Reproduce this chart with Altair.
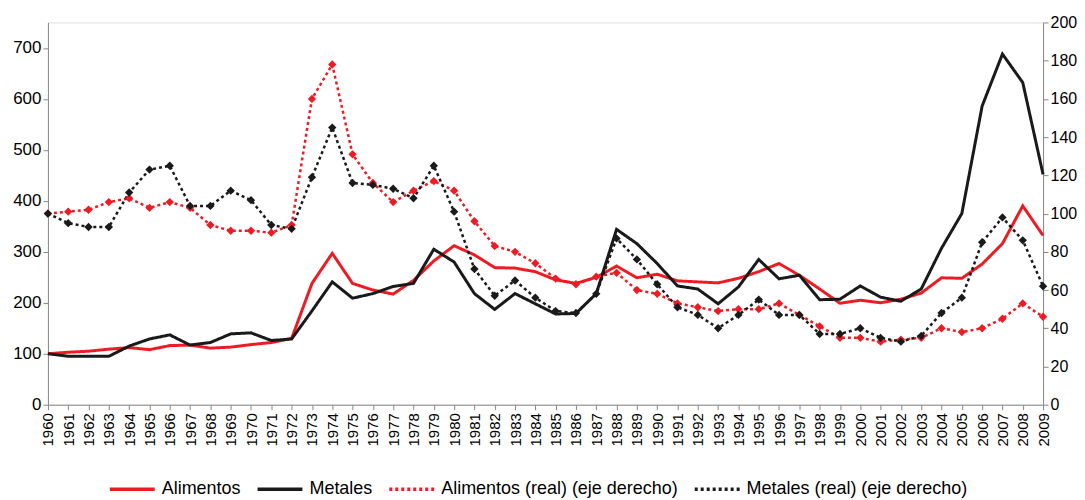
import altair as alt
import pandas as pd

years = list(range(1960, 2010))

alimentos = [100, 103, 105, 109, 112, 108, 116, 117, 111, 113,
             118, 122, 130, 238, 297, 238, 225, 217, 244, 282,
             312, 294, 269, 268, 261, 245, 238, 250, 272, 249,
             256, 243, 241, 239, 248, 261, 277, 254, 227, 199,
             205, 200, 207, 219, 249, 248, 276, 316, 390, 332]

metales = [100, 95, 95, 95, 115, 129, 137, 117, 122, 139,
           141, 126, 129, 184, 241, 209, 218, 232, 238, 305,
           280, 218, 187, 218, 198, 178, 179, 218, 344, 316,
           277, 233, 227, 198, 231, 285, 247, 254, 206, 207,
           233, 211, 203, 227, 307, 375, 586, 688, 632, 452]

alimentos_real = [100, 101, 102, 106, 108, 103, 106, 103, 94, 91,
                  91, 90, 94, 160, 178, 131, 116, 106, 112, 117,
                  112, 96, 83, 80, 74, 66, 63, 67, 69, 60,
                  58, 53, 51, 49, 50, 50, 53, 47, 41, 35,
                  35, 33, 34, 35, 40, 38, 40, 45, 53, 46]

metales_real = [100, 95, 93, 93, 111, 123, 125, 104, 104, 112,
                107, 94, 92, 119, 145, 116, 115, 113, 108, 125,
                101, 71, 57, 65, 56, 49, 48, 58, 87, 76,
                63, 51, 47, 40, 47, 55, 47, 47, 37, 37,
                40, 35, 33, 36, 48, 56, 85, 98, 86, 62]

series_names = ["Alimentos", "Metales",
                "Alimentos (real) (eje derecho)", "Metales (real) (eje derecho)"]
series_colors = ["#ed1c24", "#1a1a1a", "#ed1c24", "#1a1a1a"]

left_df = pd.concat([
    pd.DataFrame({"year": years, "valor": alimentos, "serie": series_names[0]}),
    pd.DataFrame({"year": years, "valor": metales, "serie": series_names[1]}),
])
right_df = pd.concat([
    pd.DataFrame({"year": years, "valor": alimentos_real, "serie": series_names[2]}),
    pd.DataFrame({"year": years, "valor": metales_real, "serie": series_names[3]}),
])

FONT = "Liberation Sans"

x_enc = alt.X("year:Q",
              scale=alt.Scale(domain=[1960, 2009], nice=False, zero=False),
              axis=alt.Axis(values=years, format="d", labelAngle=270, title=None,
                            labelFontSize=15, labelPadding=3, tickSize=5,
                            labelAlign="right", labelBaseline="middle",
                            grid=False))

color_enc = alt.Color("serie:N",
                      scale=alt.Scale(domain=series_names, range=series_colors),
                      legend=alt.Legend(title=None, orient="none", direction="horizontal",
                                        legendX=60, legendY=443,
                                        symbolType="stroke", symbolStrokeWidth=3.5,
                                        symbolSize=2025, labelFontSize=18,
                                        labelOffset=5, columnPadding=9,
                                        labelLimit=400))
dash_enc = alt.StrokeDash("serie:N",
                          scale=alt.Scale(domain=series_names,
                                          range=[[1, 0], [1, 0], [3, 3], [3, 3]]),
                          legend=alt.Legend(title=None))

left = alt.Chart(left_df).mark_line(strokeWidth=3).encode(
    x=x_enc,
    y=alt.Y("valor:Q", scale=alt.Scale(domain=[0, 750], nice=False),
            axis=alt.Axis(values=[0, 100, 200, 300, 400, 500, 600, 700], title=None,
                          labelFontSize=17, tickSize=5, grid=False, orient="left")),
    color=color_enc,
    strokeDash=dash_enc,
)

y_right = alt.Y("valor:Q", scale=alt.Scale(domain=[0, 200], nice=False),
                axis=alt.Axis(values=list(range(0, 201, 20)), title=None,
                              labelFontSize=16, tickSize=5, grid=False, orient="right"))

right_line = alt.Chart(right_df).mark_line(strokeWidth=2.5).encode(
    x=x_enc, y=y_right, color=color_enc, strokeDash=dash_enc)
right_pts = alt.Chart(right_df).mark_point(shape="diamond", filled=True, size=70,
                                           opacity=1).encode(
    x=x_enc, y=y_right, color=color_enc)

right = alt.layer(right_line, right_pts)

chart = alt.layer(left, right).resolve_scale(y="independent").properties(
    width=997, height=383,
    padding={"left": 4, "top": 6, "right": 0, "bottom": 0},
).configure_view(stroke=None).configure_axis(
    domainColor="#333333", tickColor="#333333", labelColor="#222222",
    labelFont=FONT, domainWidth=1.2,
).configure_legend(labelFont=FONT, labelColor="#222222").configure(font=FONT)

chart.save("out.html", embed_options={"renderer": "svg", "actions": False})
